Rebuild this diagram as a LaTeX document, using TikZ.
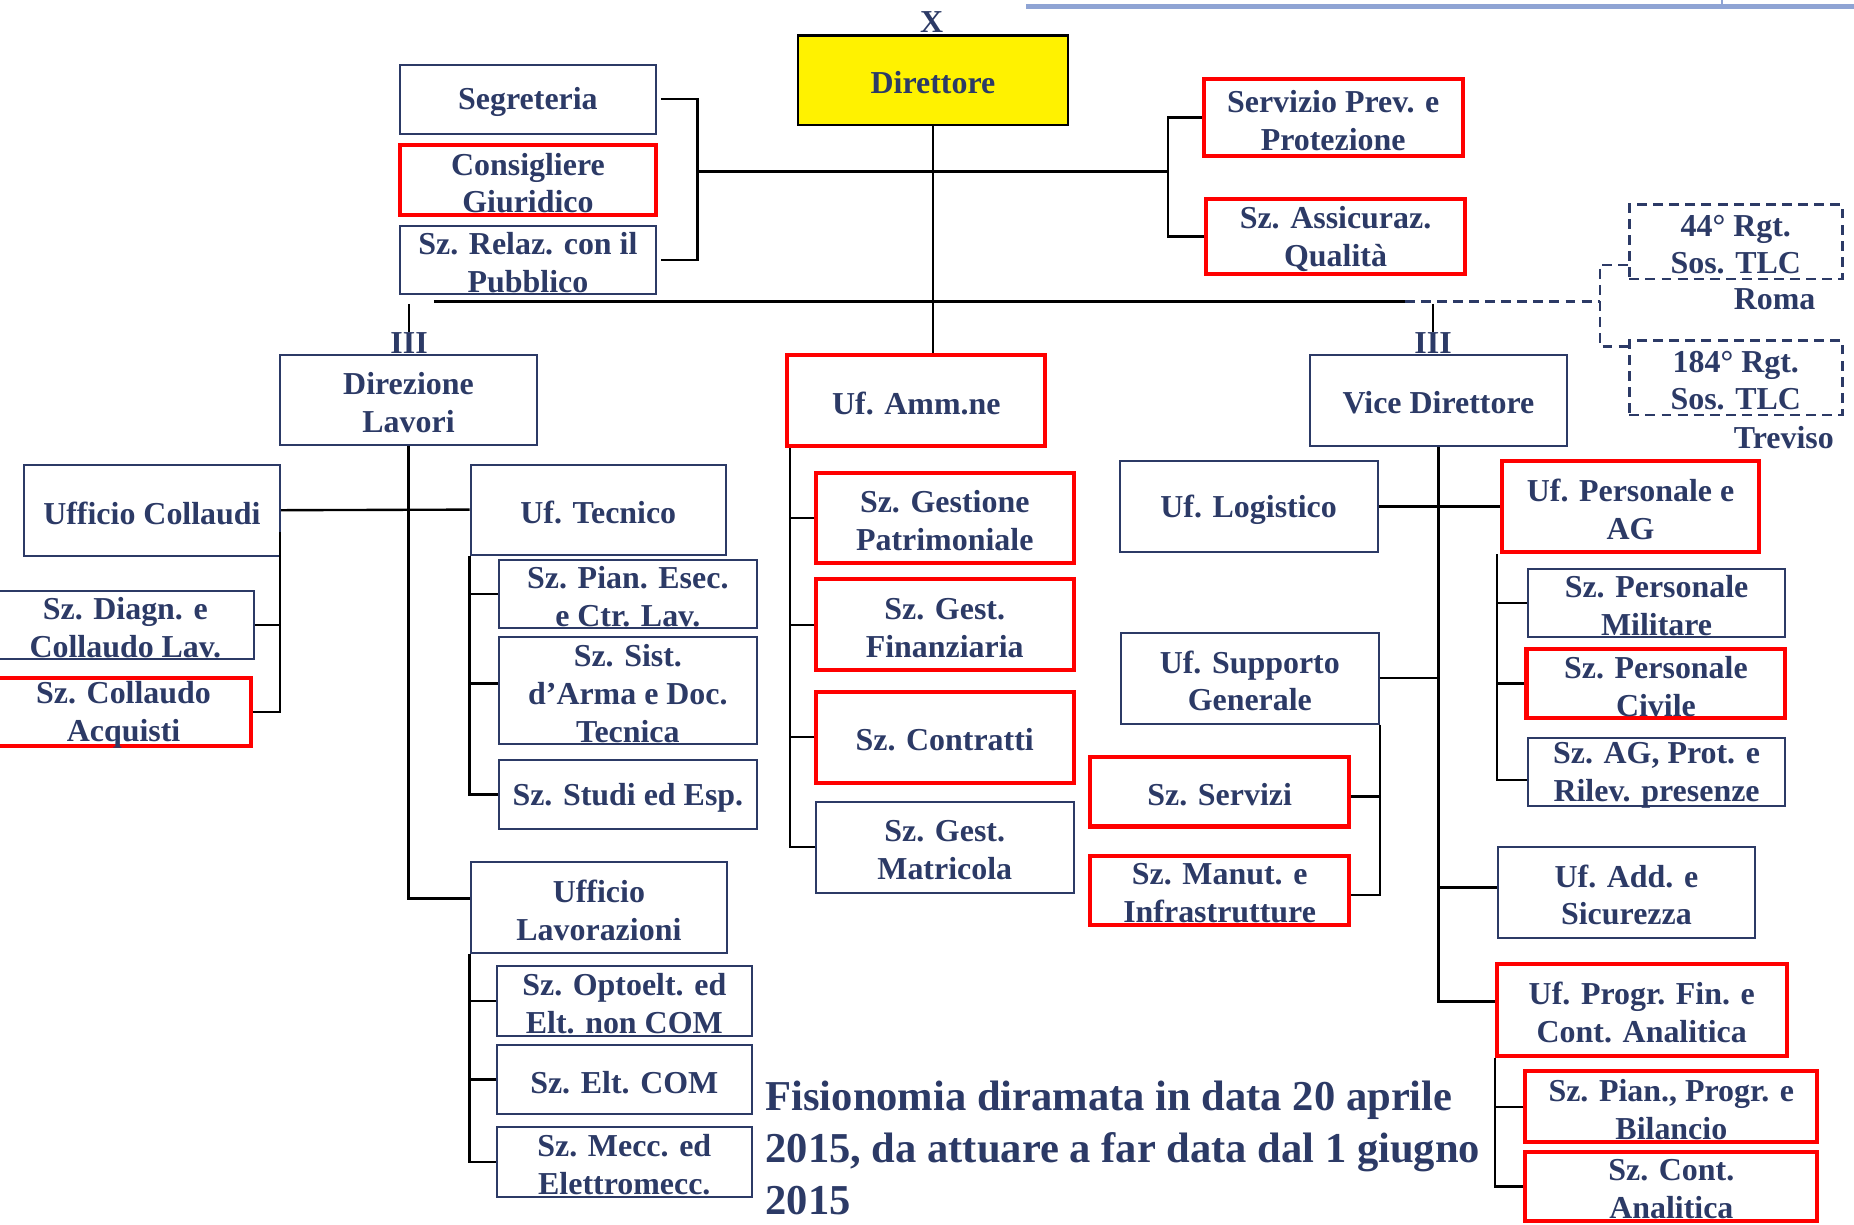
\documentclass[tikz,border=0pt]{standalone}
\usepackage{fontspec}
\setmainfont{Liberation Serif}
\usetikzlibrary{fit}
\definecolor{navy}{HTML}{2C3A66}
\definecolor{barblue}{HTML}{8FA4D4}
\newcommand\bx[7][box]{\node[#1,fit={(#3,#4) (#5,#6)},label={[txt,yshift=-1.2pt]center:{#7}}] (#2) {};}
\begin{document}
\begin{tikzpicture}[x=0.5pt,y=-0.5pt,
  box/.style={draw=navy,line width=0.85pt,inner sep=0pt},
  redbox/.style={draw=red,line width=1.7pt,inner sep=0pt},
  dbox/.style={draw=navy,line width=1.1pt,dash pattern=on 4.2pt off 2.6pt,inner sep=0pt},
  txt/.style={text=navy,font=\fontsize{13.5}{16}\selectfont\bfseries,align=center,inner sep=0pt},
  conn/.style={draw=black,line width=1pt},
  dconn/.style={draw=navy,line width=1.1pt,dash pattern=on 4.2pt off 2.6pt},
]
\useasboundingbox (0,0) rectangle (1568,1036);
% top decoration bar
\coordinate (barL) at (868,5.5);
\coordinate (barR) at (1568,5.5);
\coordinate (tickT) at (1456,0);
\draw[barblue,line width=2.2pt] (barL) -- (barR);
\draw[barblue,line width=0.8pt] (tickT) -- (tickT |- barL);

% top level
\node[fill=yellow,draw=black,line width=0.9pt,inner sep=0pt,fit={(675,30) (903,106)},label={[txt,yshift=-1pt]center:Direttore}] (dir) {};
\node[txt] (xlab) at (788,19) {X};
\bx{seg}{338}{55}{555}{113}{Segreteria}
\bx[redbox]{cons}{338}{123}{555}{182}{Consigliere\\Giuridico}
\bx{relaz}{338}{191}{555}{249}{Sz. Relaz. con il\\Pubblico}
\bx[redbox]{prev}{1018}{67}{1237}{132}{Servizio Prev. e\\Protezione}
\bx[redbox]{assic}{1020}{168}{1239}{232}{Sz. Assicuraz.\\Qualità}
\bx[dbox]{rgtA}{1378}{173}{1558}{236}{44° Rgt.\\Sos. TLC}
\bx[dbox]{rgtB}{1378}{288}{1558}{351}{184° Rgt.\\Sos. TLC}
\node[txt,anchor=west] (roma) at (1466,253) {Roma};
\node[txt,anchor=west] (trev) at (1466,370) {Treviso};

% second level
\bx{dirlav}{237}{300}{454}{376}{Direzione\\Lavori}
\bx[redbox]{amm}{666}{300}{884}{377}{Uf. Amm.ne}
\bx{vice}{1108}{300}{1325}{377}{Vice Direttore}
\node[txt] (iiiL) at (346,290) {III};
\node[txt] (iiiR) at (1212,290) {III};

% Direzione Lavori branch
\bx{coll}{20}{393}{237}{470}{Ufficio Collaudi}
\bx{diagn}{-3}{500}{215}{557}{Sz. Diagn. e\\Collaudo Lav.}
\bx[redbox]{acq}{-3}{573}{212}{631}{Sz. Collaudo\\Acquisti}
\bx{tecn}{398}{393}{614}{469}{Uf. Tecnico}
\bx{pian}{422}{474}{640}{531}{Sz. Pian. Esec.\\e Ctr. Lav.}
\bx{sist}{422}{539}{640}{629}{Sz. Sist.\\d’Arma e Doc.\\Tecnica}
\bx{studi}{422}{643}{640}{701}{Sz. Studi ed Esp.}
\bx{lavor}{398}{729}{615}{806}{Ufficio\\Lavorazioni}
\bx{opto}{420}{817}{636}{876}{Sz. Optoelt. ed\\Elt. non COM}
\bx{eltcom}{420}{884}{636}{942}{Sz. Elt. COM}
\bx{mecc}{420}{953}{636}{1012}{Sz. Mecc. ed\\Elettromecc.}

% Amministrazione branch
\bx[redbox]{patr}{690}{400}{908}{476}{Sz. Gestione\\Patrimoniale}
\bx[redbox]{fin}{690}{490}{908}{567}{Sz. Gest.\\Finanziaria}
\bx[redbox]{contr}{690}{585}{908}{662}{Sz. Contratti}
\bx{matr}{690}{678}{908}{755}{Sz. Gest.\\Matricola}

% Vice Direttore branch
\bx{logis}{947}{390}{1165}{467}{Uf. Logistico}
\bx[redbox]{pers}{1270}{390}{1488}{467}{Uf. Personale e\\AG}
\bx{milit}{1292}{481}{1510}{539}{Sz. Personale\\Militare}
\bx[redbox]{civ}{1291}{549}{1510}{607}{Sz. Personale\\Civile}
\bx{agprot}{1292}{624}{1510}{682}{Sz. AG, Prot. e\\Rilev. presenze}
\bx{supp}{948}{535}{1166}{612}{Uf. Supporto\\Generale}
\bx[redbox]{serv}{922}{640}{1141}{699}{Sz. Servizi}
\bx[redbox]{manut}{922}{724}{1141}{782}{Sz. Manut. e\\Infrastrutture}
\bx{add}{1267}{716}{1484}{793}{Uf. Add. e\\Sicurezza}
\bx[redbox]{progr}{1266}{815}{1511}{893}{Uf. Progr. Fin. e\\Cont. Analitica}
\bx[redbox]{bilan}{1290}{906}{1537}{966}{Sz. Pian., Progr. e\\Bilancio}
\bx[redbox]{cont}{1290}{974}{1537}{1033}{Sz. Cont.\\Analitica}

% note
\node[txt,font=\fontsize{18}{22}\selectfont\bfseries,align=left,anchor=north west] (note) at (647,914)
  {Fisionomia diramata in data 20 aprile\\2015, da attuare a far data dal 1 giugno\\2015};

% ---------- connectors ----------
\coordinate (lb) at (590,145);
\coordinate (rb) at (988,145);
\draw[line width=0.6pt] (dir.south) -- (dir.south |- amm.north);
\draw[conn] (lb) -- (rb);
\draw[conn] ([xshift=1.5pt]seg.east) -| (lb) |- ([xshift=1.5pt]relaz.east);
\draw[conn] (prev.west) -| (rb) |- (assic.west);

\coordinate (hl) at (367,255);
\coordinate (hr) at (1188,255);
\coordinate (hd) at (1353,255);
\coordinate (d1) at (1353,224);
\coordinate (d2) at (1353,293);
\coordinate (vl) at (346,257);
\coordinate (vr) at (1212,257);
\draw[conn] (hl) -- (hr);
\draw[dconn] (hr) -- (hd);
\draw[dconn] (rgtA.west |- d1) -- (d1) -- (d2) -- (rgtB.west |- d2);
\draw[conn] (vl) -- (iiiL.north);
\draw[conn] (vr) -- (iiiR.north);

% Direzione Lavori
\draw[conn] (dirlav.south) |- ([yshift=3.75pt]lavor.west);
\draw[conn] (coll.east) -- (tecn.west);
\coordinate (cv) at (237,450);
\draw[conn] (cv) |- (acq.east);
\draw[conn] (diagn.east) -| (cv);
\draw[conn] (tecn.south west) |- (studi.west);
\draw[conn] (pian.west) -| (tecn.south west);
\draw[conn] ([yshift=3pt]sist.west) -| (tecn.south west);
\draw[conn] (lavor.south west) |- (mecc.west);
\draw[conn] (opto.west) -| (lavor.south west);
\draw[conn] (eltcom.west) -| (lavor.south west);

% Amministrazione
\coordinate (av) at ([xshift=2pt]amm.south west);
\draw[conn] (av) |- (matr.west);
\draw[conn] (patr.west) -| (av);
\draw[conn] (fin.west) -| (av);
\draw[conn] (contr.west) -| (av);

% Vice Direttore
\draw[conn] (vice.south) |- ([yshift=3.5pt]progr.west);
\draw[conn] (logis.east) -- (pers.west);
\draw[conn] (supp.east) -| (vice.south);
\draw[conn] ([yshift=1.9pt]add.west) -| (vice.south);
\coordinate (pv) at ([xshift=-1pt]pers.south west);
\draw[conn] (pv) |- ([yshift=-3.3pt]agprot.west);
\draw[conn] (milit.west) -| (pv);
\draw[conn] (civ.west) -| (pv);
\draw[conn] (supp.south east) |- ([yshift=-2pt]manut.east);
\draw[conn] ([yshift=-2pt]serv.east) -| (supp.south east);
\draw[conn] (progr.south west) |- (cont.west);
\draw[conn] (bilan.west) -| (progr.south west);
\end{tikzpicture}
\end{document}
